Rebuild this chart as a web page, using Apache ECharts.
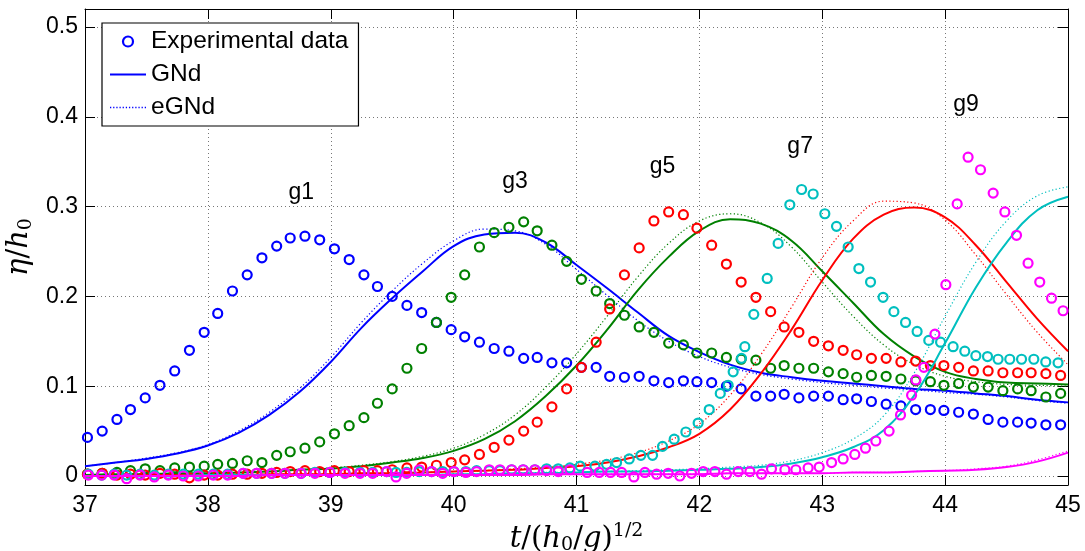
<!DOCTYPE html>
<html><head><meta charset="utf-8">
<script src="https://cdn.jsdelivr.net/npm/echarts@6/dist/echarts.min.js"></script>
<style>html,body{margin:0;padding:0;background:#fff}#c{width:1085px;height:551px}</style>
</head><body><div id="c"></div>
<script>
// ---- experimental sample times (g1, g3, g5 share one clock) ----
const tA = [37.02,37.14,37.26,37.37,37.49,37.61,37.73,37.85,37.97,38.08,38.20,38.32,38.44,38.56,38.67,38.79,38.91,39.03,39.15,39.27,39.38,39.50,39.62,39.74,39.86,39.98,40.09,40.21,40.33,40.45,40.57,40.68,40.80,40.92,41.04,41.16,41.27,41.39,41.51,41.63,41.75,41.87,41.98,42.10,42.22,42.34,42.46,42.58,42.69,42.81,42.93,43.05,43.17,43.28,43.40,43.52,43.64,43.76,43.88,43.99,44.11,44.23,44.35,44.47,44.59,44.70,44.82,44.94];
const g1V = [0.043,0.050,0.063,0.074,0.087,0.101,0.117,0.140,0.160,0.181,0.206,0.224,0.243,0.256,0.265,0.267,0.263,0.253,0.241,0.224,0.211,0.200,0.190,0.182,0.171,0.163,0.155,0.149,0.142,0.139,0.131,0.132,0.126,0.126,0.121,0.121,0.111,0.110,0.111,0.106,0.104,0.106,0.105,0.104,0.100,0.097,0.089,0.089,0.091,0.087,0.089,0.089,0.085,0.086,0.083,0.080,0.078,0.074,0.074,0.073,0.071,0.069,0.063,0.060,0.060,0.059,0.057,0.057];
const g3V = [0.002,0.003,0.004,0.006,0.008,0.006,0.009,0.010,0.011,0.013,0.014,0.017,0.015,0.023,0.027,0.031,0.038,0.047,0.056,0.065,0.081,0.097,0.120,0.142,0.171,0.199,0.224,0.255,0.271,0.277,0.283,0.273,0.257,0.239,0.219,0.206,0.192,0.179,0.166,0.160,0.148,0.146,0.137,0.137,0.132,0.130,0.129,0.120,0.123,0.120,0.120,0.116,0.114,0.110,0.112,0.111,0.108,0.106,0.105,0.101,0.103,0.099,0.099,0.095,0.097,0.095,0.088,0.092];
const g5V = [0.002,0.003,0.001,0.002,0.001,0.003,0.002,-0.002,0.001,0.001,0.002,0.002,0.003,0.004,0.005,0.006,0.005,0.006,0.005,0.006,0.006,0.007,0.009,0.010,0.012,0.015,0.018,0.024,0.032,0.040,0.050,0.060,0.077,0.097,0.121,0.149,0.186,0.224,0.254,0.284,0.294,0.291,0.276,0.257,0.236,0.216,0.199,0.183,0.166,0.160,0.150,0.145,0.140,0.135,0.131,0.131,0.127,0.128,0.123,0.123,0.121,0.117,0.117,0.115,0.115,0.115,0.114,0.112];
// ---- g7 (cyan) and g9 (magenta) have their own sample times ----
const g7T = [37.027,37.136,37.238,37.339,37.448,37.564,37.678,37.800,37.922,38.044,38.161,38.288,38.397,38.519,38.627,38.758,38.871,38.993,39.116,39.238,39.341,39.455,39.531,39.618,39.720,39.821,39.911,40.002,40.100,40.187,40.290,40.377,40.472,40.566,40.661,40.757,40.851,40.946,41.03,41.15,41.245,41.326,41.429,41.524,41.619,41.70,41.795,41.89,41.99,42.08,42.17,42.234,42.275,42.343,42.37,42.443,42.552,42.641,42.736,42.832,42.926,43.021,43.116,43.211,43.298,43.393,43.495,43.583,43.678,43.772,43.867,43.963,44.065,44.160,44.250,44.345,44.431,44.526,44.622,44.722,44.819,44.919];
const g7V = [0.002,0.001,0.002,0.001,0.002,0.001,0.002,0.002,0.002,0.002,0.002,0.003,0.003,0.003,0.003,0.003,0.004,0.004,0.004,0.004,0.004,0.005,0.004,0.004,0.005,0.005,0.005,0.005,0.005,0.006,0.006,0.006,0.007,0.007,0.007,0.008,0.008,0.009,0.011,0.011,0.013,0.015,0.019,0.023,0.023,0.033,0.041,0.049,0.059,0.074,0.092,0.101,0.116,0.131,0.144,0.180,0.220,0.259,0.302,0.319,0.314,0.292,0.278,0.255,0.231,0.216,0.199,0.183,0.171,0.161,0.151,0.149,0.144,0.139,0.134,0.133,0.130,0.130,0.130,0.130,0.127,0.126];
const g9T = [37.027,37.136,37.238,37.339,37.448,37.564,37.678,37.800,37.922,38.044,38.161,38.288,38.397,38.519,38.627,38.758,38.871,38.993,39.116,39.238,39.341,39.455,39.531,39.618,39.720,39.821,39.911,40.002,40.100,40.187,40.290,40.377,40.472,40.566,40.661,40.757,40.851,40.946,41.087,41.185,41.277,41.367,41.467,41.557,41.652,41.746,41.841,41.936,42.031,42.126,42.221,42.316,42.411,42.506,42.587,42.696,42.785,42.885,42.975,43.076,43.170,43.265,43.352,43.436,43.544,43.637,43.727,43.762,43.827,43.917,44.006,44.098,44.187,44.288,44.391,44.486,44.581,44.675,44.770,44.866,44.960];
const g9V = [0.001,0.001,0.001,-0.003,0.001,-0.001,0.001,0.000,0.000,0.001,0.001,0.003,0.003,0.003,0.003,0.003,0.003,0.004,0.003,0.003,0.003,0.005,-0.001,0.003,0.007,0.005,0.003,0.005,0.004,0.005,0.007,0.007,0.007,0.007,0.007,0.006,0.005,0.007,0.004,0.004,0.004,0.004,-0.001,0.004,0.002,0.003,0.000,0.003,0.005,0.005,0.002,0.005,0.005,0.002,0.008,0.007,0.007,0.009,0.010,0.015,0.019,0.024,0.031,0.039,0.050,0.068,0.090,0.107,0.121,0.158,0.213,0.303,0.355,0.341,0.315,0.294,0.268,0.237,0.216,0.198,0.184];
// ---- model curves (GNd solid, eGNd dotted) sampled on lineT ----
const lineT = [37,37.25,37.5,37.75,38,38.25,38.5,38.75,39,39.25,39.5,39.75,40,40.25,40.5,40.75,41,41.25,41.5,41.75,42,42.25,42.5,42.75,43,43.25,43.5,43.75,44,44.25,44.5,44.75,45];
const g1GNd  = [0.011,0.015,0.019,0.025,0.034,0.048,0.068,0.094,0.127,0.165,0.198,0.228,0.256,0.269,0.271,0.260,0.235,0.209,0.182,0.156,0.138,0.124,0.115,0.110,0.106,0.103,0.100,0.097,0.095,0.092,0.089,0.085,0.082];
const g1eGNd = [0.011,0.015,0.020,0.026,0.035,0.050,0.071,0.098,0.132,0.171,0.206,0.237,0.262,0.275,0.273,0.258,0.230,0.201,0.173,0.150,0.133,0.121,0.113,0.108,0.104,0.101,0.098,0.096,0.093,0.091,0.088,0.084,0.081];
const g3GNd  = [0.001,0.002,0.002,0.003,0.003,0.004,0.005,0.007,0.008,0.011,0.015,0.020,0.028,0.041,0.061,0.089,0.123,0.163,0.207,0.244,0.273,0.286,0.281,0.262,0.228,0.193,0.158,0.133,0.116,0.108,0.104,0.103,0.102];
const g3eGNd = [0.001,0.002,0.002,0.003,0.003,0.004,0.005,0.007,0.009,0.012,0.016,0.022,0.031,0.046,0.068,0.099,0.136,0.178,0.222,0.259,0.284,0.292,0.282,0.255,0.216,0.178,0.146,0.124,0.111,0.105,0.102,0.101,0.100];
const g5GNd  = [0.000,0.000,0.001,0.001,0.001,0.001,0.002,0.002,0.002,0.003,0.003,0.004,0.005,0.006,0.007,0.009,0.011,0.015,0.022,0.032,0.047,0.074,0.114,0.163,0.218,0.264,0.291,0.299,0.288,0.257,0.216,0.175,0.139];
const g5eGNd = [0.000,0.000,0.001,0.001,0.001,0.001,0.002,0.002,0.002,0.003,0.003,0.004,0.005,0.006,0.008,0.010,0.013,0.018,0.026,0.039,0.058,0.090,0.135,0.188,0.243,0.284,0.306,0.304,0.285,0.246,0.202,0.160,0.124];
const g7GNd  = [0.000,0.000,0.000,0.000,0.001,0.001,0.001,0.001,0.001,0.001,0.001,0.001,0.002,0.002,0.003,0.003,0.004,0.005,0.005,0.006,0.007,0.008,0.010,0.014,0.021,0.032,0.051,0.090,0.148,0.210,0.260,0.296,0.311];
const g7eGNd = [0.000,0.000,0.000,0.000,0.001,0.001,0.001,0.001,0.001,0.001,0.001,0.001,0.002,0.002,0.003,0.004,0.004,0.005,0.006,0.007,0.008,0.010,0.012,0.017,0.026,0.041,0.067,0.115,0.178,0.238,0.284,0.312,0.322];
const g9GNd  = [0.000,0.000,0.000,0.000,0.000,0.000,0.001,0.001,0.001,0.001,0.001,0.001,0.001,0.001,0.001,0.002,0.002,0.002,0.002,0.002,0.002,0.003,0.003,0.003,0.003,0.004,0.004,0.005,0.006,0.007,0.010,0.016,0.026];
const g9eGNd = [0.000,0.000,0.000,0.000,0.000,0.000,0.001,0.001,0.001,0.001,0.001,0.001,0.001,0.001,0.001,0.002,0.002,0.002,0.002,0.002,0.002,0.003,0.003,0.003,0.003,0.004,0.004,0.005,0.006,0.008,0.011,0.018,0.028];
// ---- ticks and annotations ----
const xTicks = [37,38,39,40,41,42,43,44,45];
const yTicks = [0,0.1,0.2,0.3,0.4,0.5];
const gaugeNames = ['g1','g3','g5','g7','g9'];
const gaugeLabelT = [38.76,40.50,41.70,42.82,44.17];
const gaugeLabelV = [0.316,0.328,0.345,0.367,0.413];

const colors = ['#0000ff','#008000','#ff0000','#00bfbf','#ff00ff'];
const expT = [tA,tA,tA,g7T,g9T];
const expV = [g1V,g3V,g5V,g7V,g9V];
const gndV = [g1GNd,g3GNd,g5GNd,g7GNd,g9GNd];
const egndV = [g1eGNd,g3eGNd,g5eGNd,g7eGNd,g9eGNd];
const pairs = (t,v) => t.map((x,i)=>[x,v[i]]);

const series = [];
for (let k=0;k<5;k++){
  const c = colors[k];
  series.push({
    name: k===0 ? 'Experimental data' : gaugeNames[k]+' exp',
    type:'scatter', symbol:'circle', symbolSize:9,
    itemStyle:{color:'rgba(0,0,0,0)', borderColor:c, borderWidth:2.2, opacity:1},
    data: pairs(expT[k], expV[k]), z: 3+k, silent:true
  });
  series.push({
    name: k===0 ? 'GNd' : gaugeNames[k]+' GNd',
    type:'line', symbol:'none', smooth:0.4, showSymbol:false,
    lineStyle:{color:c, width:2}, itemStyle:{color:c},
    data: pairs(lineT, gndV[k]), z: 3+k, silent:true
  });
  series.push({
    name: k===0 ? 'eGNd' : gaugeNames[k]+' eGNd',
    type:'line', symbol:'none', smooth:0.4, showSymbol:false,
    lineStyle:{color:c, width:1.2, type:[1.2,2.4]}, itemStyle:{color:c},
    data: pairs(lineT, egndV[k]), z: 3+k, silent:true
  });
}
series.push({
  name:'labels', type:'scatter', symbolSize:0, z:20, silent:true,
  itemStyle:{opacity:1},
  data: gaugeNames.map((n,i)=>({name:n, value:[gaugeLabelT[i], gaugeLabelV[i]]})),
  label:{show:true, position:'inside', formatter:p=>p.name, color:'#000', opacity:1, fontSize:23, fontFamily:'Liberation Sans'}
});

// legend icon shapes (solid bar, dotted bar)
const solidIcon = 'path://M0,0H36V2H0Z';
let dotPath = 'path://';
for (let i=0;i<12;i++){ dotPath += 'M'+(i*3)+',0h1.2v1.2h-1.2Z'; }

const tickFont = {color:'#000', fontSize:23, fontFamily:'Liberation Sans'};
const gridDots = {show:true, lineStyle:{color:'#777', width:1, type:[1,3]}};
const axLine = {show:true, onZero:false, lineStyle:{color:'#000', width:1}};
const mathRich = {
  i:{fontStyle:'italic', fontFamily:'DejaVu Serif', fontSize:29, color:'#000'},
  r:{fontFamily:'DejaVu Serif', fontSize:29, color:'#000'},
  s:{fontFamily:'DejaVu Serif', fontSize:19, color:'#000', padding:[12,0,0,0]},
  p:{fontFamily:'DejaVu Serif', fontSize:19, color:'#000', padding:[0,0,16,0]}
};

const chart = echarts.init(document.getElementById('c'), null, {renderer:'canvas'});
chart.setOption({
  animation:false,
  backgroundColor:'#fff',
  grid:{left:85, right:17, top:9, bottom:66, containLabel:false, outerBoundsMode:'none'},
  legend:{
    data:[
      {name:'Experimental data', icon:'circle', itemStyle:{color:'rgba(0,0,0,0)', borderColor:'#0000ff', borderWidth:2.2}},
      {name:'GNd', icon:solidIcon, itemStyle:{color:'#0000ff', borderWidth:0}},
      {name:'eGNd', icon:dotPath, itemStyle:{color:'#0000ff', borderWidth:0}}
    ],
    orient:'vertical', left:102, top:23, itemWidth:36, itemHeight:10, itemGap:8,
    padding:[6,10,6,8], borderColor:'#000', borderWidth:1.2, backgroundColor:'#fff',
    textStyle:{color:'#000', fontSize:24.5, fontFamily:'Liberation Sans'},
    selectedMode:false, z:30
  },
  xAxis:[{
    type:'value', min:37, max:45, interval:1, position:'bottom',
    axisLine:axLine, axisTick:{show:true, inside:true, length:10, lineStyle:{color:'#000'}},
    axisLabel:Object.assign({margin:9, customValues:xTicks}, tickFont),
    splitLine:gridDots,
    name:'{i|t}{r|/(}{i|h}{s|0}{r|/}{i|g}{r|)}{p|1/2}', nameLocation:'middle', nameGap:33,
    nameTextStyle:{rich:mathRich}
  },{
    type:'value', min:37, max:45, interval:1, position:'top',
    axisLine:axLine, axisTick:{show:true, inside:true, length:10, lineStyle:{color:'#000'}},
    axisLabel:{show:false}, splitLine:{show:false}
  }],
  yAxis:[{
    type:'value', min:-0.01, max:0.52, position:'left',
    axisLine:axLine,
    axisTick:{show:true, inside:true, length:10, customValues:yTicks, lineStyle:{color:'#000'}},
    axisLabel:Object.assign({margin:7, customValues:yTicks, formatter:v=> v===0?'0':v.toFixed(1)}, tickFont),
    splitLine:gridDots,
    name:'{i|η}{r|/}{i|h}{s|0}', nameLocation:'middle', nameGap:25, nameRotate:90,
    nameTextStyle:{rich:mathRich}
  },{
    type:'value', min:-0.01, max:0.52, position:'right',
    axisLine:axLine,
    axisTick:{show:true, inside:true, length:10, customValues:yTicks, lineStyle:{color:'#000'}},
    axisLabel:{show:false}, splitLine:{show:false}
  }],
  series: series
});
</script></body></html>
